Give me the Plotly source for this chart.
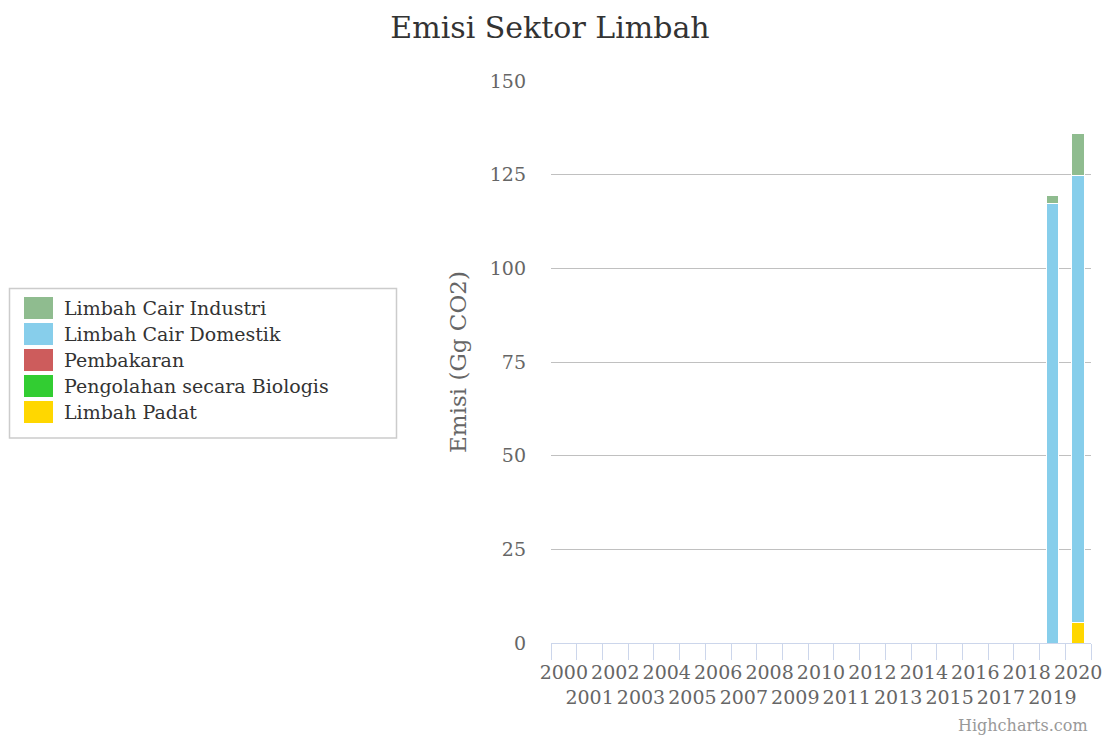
import plotly.graph_objects as go

years = [str(y) for y in range(2000, 2021)]
series_names = ["Limbah Cair Industri", "Limbah Cair Domestik", "Pembakaran",
                "Pengolahan secara Biologis", "Limbah Padat"]
series_colors = ["#8fbc8f", "#87ceeb", "#cd5c5c", "#32cd32", "#ffd700"]

limbah_cair_industri = [0] * 19 + [2.0, 11.4]
limbah_cair_domestik = [0] * 19 + [117.4, 119.3]
pembakaran = [0] * 21
pengolahan_biologis = [0] * 21
limbah_padat = [0] * 19 + [0, 5.4]

series_values = [limbah_cair_industri, limbah_cair_domestik, pembakaran,
                 pengolahan_biologis, limbah_padat]

FONT = "DejaVu Serif"
W, H = 1109, 736
L, R, T, B = 551, 18, 81, 93
PW, PH = W - L - R, H - T - B


def px_x(x):
    return (x - L) / PW


def px_y(y):
    return (H - B - y) / PH


fig = go.Figure()
# bottom of stack first
for name, color, vals in reversed(list(zip(series_names, series_colors, series_values))):
    fig.add_trace(go.Bar(
        x=years, y=vals, name=name,
        marker=dict(color=color, line=dict(color="white", width=1)),
        showlegend=False,
    ))

ticktext = [y if i % 2 == 0 else "<br>" + y for i, y in enumerate(years)]

fig.update_layout(
    width=W, height=H,
    margin=dict(l=L, r=R, t=T, b=B, autoexpand=False),
    barmode="stack", bargap=0.52,
    plot_bgcolor="white", paper_bgcolor="white",
    font=dict(family=FONT, color="#666666"),
    title=dict(text="Emisi Sektor Limbah", x=550 / W, xanchor="center",
               xref="container", yref="container", y=1 - 27 / H, yanchor="middle",
               font=dict(family=FONT, size=30, color="#333333")),
    xaxis=dict(type="category", categoryorder="array", categoryarray=years,
               tickmode="array", tickvals=years, ticktext=ticktext,
               tickson="boundaries", ticks="outside", ticklen=16,
               tickcolor="#ccd6eb", tickwidth=1, ticklabelstandoff=12,
               showline=True, linecolor="#ccd6eb", linewidth=1,
               showgrid=False, tickangle=0,
               tickfont=dict(family=FONT, size=19, color="#666666")),
    yaxis=dict(range=[0, 150], dtick=25, tick0=0, showgrid=True,
               gridcolor="#c0c0c0", gridwidth=1, zeroline=False,
               showline=False, ticks="", ticklabelstandoff=24,
               tickfont=dict(family=FONT, size=19, color="#666666"),
               title=dict(text="Emisi (Gg CO2)", standoff=16,
                          font=dict(family=FONT, size=23, color="#666666"))),
)

# legend box (manual, Highcharts style)
shapes = [dict(type="rect", xref="paper", yref="paper",
               x0=px_x(9.5), x1=px_x(396.5), y0=px_y(438), y1=px_y(288.5),
               line=dict(color="#cccccc", width=1.5), fillcolor="white", layer="below")]
annotations = []
for i, (name, color) in enumerate(zip(series_names, series_colors)):
    cy = 308 + 26 * i
    shapes.append(dict(type="rect", xref="paper", yref="paper",
                       x0=px_x(24), x1=px_x(53), y0=px_y(cy + 11), y1=px_y(cy - 11),
                       line=dict(width=0), fillcolor=color))
    annotations.append(dict(text=name, xref="paper", yref="paper",
                            x=px_x(62), y=px_y(cy), xanchor="left", yanchor="middle",
                            showarrow=False,
                            font=dict(family=FONT, size=19, color="#333333")))

annotations.append(dict(text="Highcharts.com", xref="paper", yref="paper",
                        x=px_x(1090), y=px_y(725), xanchor="right", yanchor="middle",
                        showarrow=False,
                        font=dict(family=FONT, size=16, color="#999999")))

fig.update_layout(shapes=shapes, annotations=annotations)

fig.write_html("out.html", config={"displayModeBar": False},
               post_script="document.body.style.margin='0';document.body.style.overflow='hidden';")
